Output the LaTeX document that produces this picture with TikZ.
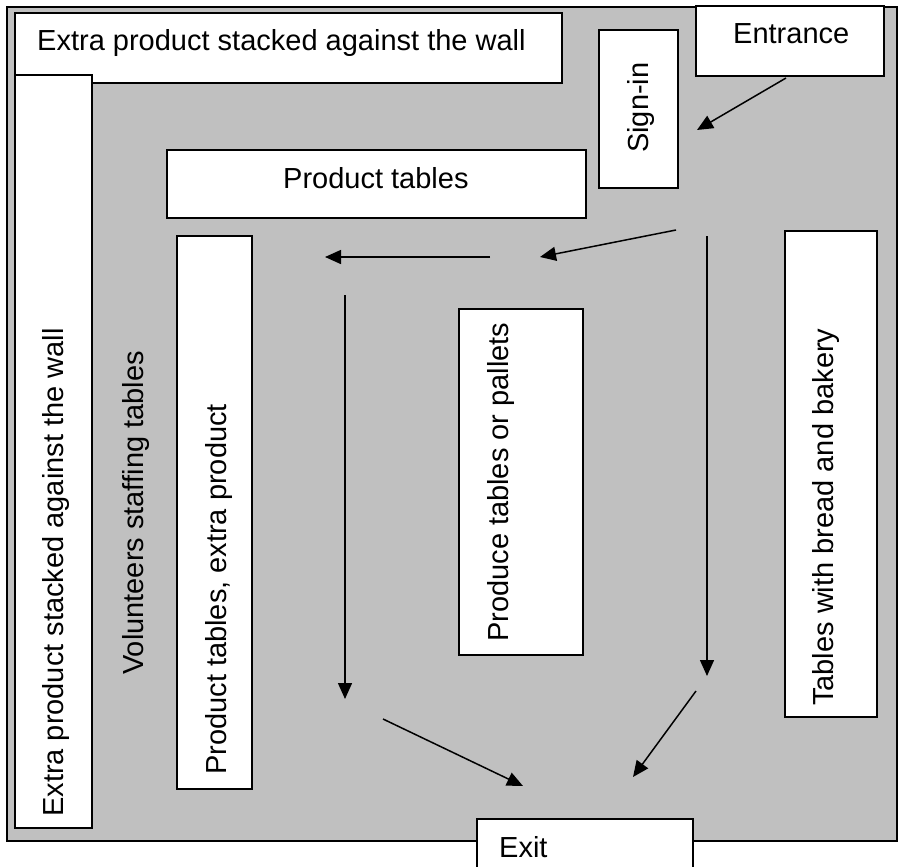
\documentclass[tikz,border=0pt]{standalone}
\usepackage{fontspec}
\setmainfont{Liberation Sans}
\usetikzlibrary{arrows.meta}
\definecolor{hallgray}{HTML}{C0C0C0}
\begin{document}
\begin{tikzpicture}[x=1pt,y=-1pt,
    tbl/.style={draw, line width=1.8pt, fill=white, inner sep=0pt},
    lbl/.style={font=\fontsize{29}{34}\selectfont, inner sep=0pt, anchor=base west},
    vlbl/.style={lbl, rotate=90},
    walk/.style={line width=1.5pt, -{Triangle[length=16pt,width=14pt]}}]
     \fill[white] (0,0) rectangle (900,867);
     \useasboundingbox (0,0) rectangle (900,867);
     % Hall floor
     \node[tbl, fill=hallgray, minimum width=890pt, minimum height=834pt] (hall) at (452,424) {};
     % Walls with extra product
     \node[tbl, minimum width=547pt, minimum height=70pt] (wallTop) at (288.5,48) {};
     \node[tbl, minimum width=77pt, minimum height=753pt] (wallLeft) at (53.5,451.5) {};
     \node[lbl] (wallTopText) at (37,51) {Extra product stacked against the wall};
     \node[vlbl] (wallLeftText) at (63,817) {Extra product stacked against the wall};
     % Entrance and sign-in
     \node[tbl, minimum width=188pt, minimum height=70pt] (entrance) at (790,41) {};
     \node[lbl] (entranceText) at (733,44) {Entrance};
     \node[tbl, minimum width=79pt, minimum height=158pt] (signin) at (638.5,109) {};
     \node[vlbl] (signinText) at (648,153) {Sign-in};
     % Tables
     \node[tbl, minimum width=419pt, minimum height=68pt] (prodTop) at (376.5,184) {};
     \node[lbl] (prodTopText) at (283,188) {Product tables};
     \node[tbl, minimum width=75pt, minimum height=553pt] (prodExtra) at (214.5,512.5) {};
     \node[vlbl] (prodExtraText) at (226,775) {Product tables, extra product};
     \node[tbl, minimum width=124pt, minimum height=346pt] (produce) at (521,482) {};
     \node[vlbl] (produceText) at (508,642) {Produce tables or pallets};
     \node[tbl, minimum width=92pt, minimum height=486pt] (bread) at (831,474) {};
     \node[vlbl] (breadText) at (833,706) {Tables with bread and bakery};
     \node[vlbl] (volunteers) at (143,675) {Volunteers staffing tables};
     % Exit
     \node[tbl, minimum width=216pt, minimum height=54pt] (exit) at (585,846) {};
     \node[lbl] (exitText) at (499,857) {Exit};
     %
     % Walking route
     \coordinate (r1s) at (786,78);  \coordinate (r1e) at (697,130);
     \coordinate (r2s) at (676,230); \coordinate (r2e) at (540,257);
     \coordinate (r3s) at (490,257); \coordinate (r3e) at (325,257);
     \coordinate (r4s) at (345,295); \coordinate (r4e) at (345,699);
     \coordinate (r5s) at (707,236); \coordinate (r5e) at (707,676);
     \coordinate (r6s) at (383,719); \coordinate (r6e) at (523,786);
     \coordinate (r7s) at (696,691); \coordinate (r7e) at (633,777);
     \draw[walk] (r1s) -- (r1e);
     \draw[walk] (r2s) -- (r2e);
     \draw[walk] (r3s) -- (r3e);
     \draw[walk] (r4s) -- (r4e);
     \draw[walk] (r5s) -- (r5e);
     \draw[walk] (r6s) -- (r6e);
     \draw[walk] (r7s) -- (r7e);
\end{tikzpicture}
\end{document}
